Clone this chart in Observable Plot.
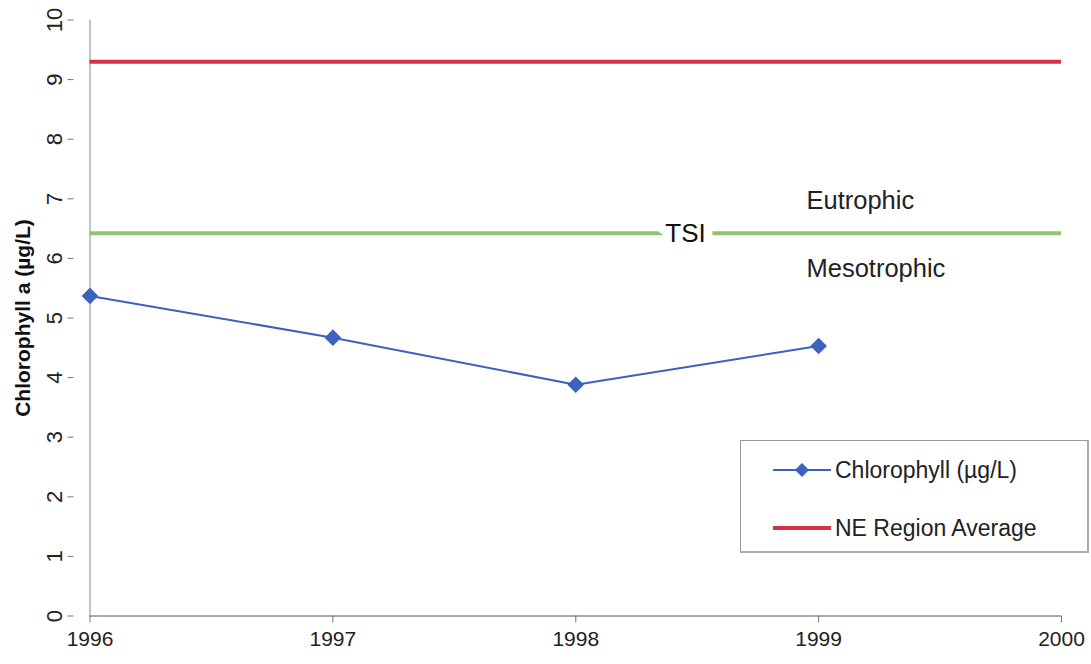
<!DOCTYPE html>
<html><head><meta charset="utf-8">
<script src="https://cdn.jsdelivr.net/npm/d3@7"></script>
<script src="https://cdn.jsdelivr.net/npm/@observablehq/plot@0.6"></script>
<style>
body{margin:0;background:#fff;font-family:"Liberation Sans",Arial,sans-serif;}
#wrap{position:relative;width:1091px;height:664px;}
#legend{position:absolute;left:740px;top:440px;width:349px;height:113px;border:1px solid #999;border-right:2px solid #aaa;border-bottom:2px solid #aaa;box-sizing:border-box;background:#fff;font-size:23px;color:#222;}
.item{position:absolute;left:32px;display:flex;align-items:center;height:26px;}
.sw{margin-right:4px;}
</style></head>
<body><div id="wrap"><div id="chart"></div>
<div id="legend">
<div class="item" style="top:16px"><svg class="sw" width="58" height="16"><line x1="0" y1="8" x2="58" y2="8" stroke="#3b62bf" stroke-width="2"/><path d="M29,1L36,8L29,15L22,8Z" fill="#3b62bf"/></svg><span>Chlorophyll (µg/L)</span></div>
<div class="item" style="top:74px"><svg class="sw" width="58" height="16"><line x1="0" y1="8" x2="58" y2="8" stroke="#d8304a" stroke-width="4"/></svg><span>NE Region Average</span></div>
</div></div>
<script>
const years = [1996, 1997, 1998, 1999];
const chlorophyll = [5.37, 4.67, 3.88, 4.53];
const neRegionAverage = 9.3;
const tsiThreshold = 6.42;
const xTicks = [1996, 1997, 1998, 1999, 2000];
const yTicks = [0,1,2,3,4,5,6,7,8,9,10];
const zoneLabels = ["Eutrophic", "Mesotrophic"];
const zoneLabelY = [6.97, 5.83];
const zoneLabelX = 1998.95;
const tsiLabel = "TSI";
const tsiLabelX = 1998.452;

const data = years.map((y, i) => ({year: y, value: chlorophyll[i]}));
const zones = zoneLabels.map((t, i) => ({text: t, y: zoneLabelY[i]}));

const chart = Plot.plot({
  width: 1091, height: 664,
  marginLeft: 89.5, marginRight: 30, marginTop: 19.5, marginBottom: 48.5,
  style: {fontFamily: "Liberation Sans, Arial, sans-serif", background: "#fff", fontSize: "21px", color: "#222"},
  x: {domain: [1996, 2000]},
  y: {domain: [0, 10]},
  marks: [
    Plot.axisY({ticks: yTicks, tickSize: 6, stroke: "#777", tickRotate: -90, fill: "#222", dx: -16, tickPadding: 6,
      label: "Chlorophyll a (µg/L)", labelAnchor: "center", labelArrow: "none", labelOffset: 75}),
    Plot.axisX({ticks: xTicks, tickFormat: d => String(d), tickSize: 7, stroke: "#777", fill: "#222", tickPadding: 8, label: null}),
    Plot.ruleX([1996], {stroke: "#888", strokeWidth: 1}),
    Plot.ruleY([0], {stroke: "#555", strokeWidth: 1}),
    Plot.ruleY([neRegionAverage], {stroke: "#d8304a", strokeWidth: 4}),
    Plot.ruleY([tsiThreshold], {stroke: "#8ec46e", strokeWidth: 4}),
    Plot.text([tsiLabel], {x: tsiLabelX, y: tsiThreshold, text: d => d, fontSize: 26, fill: "#111", stroke: "white", strokeWidth: 18, paintOrder: "stroke"}),
    Plot.text(zones, {x: zoneLabelX, y: "y", text: "text", textAnchor: "start", fontSize: 25.5, fill: "#222"}),
    Plot.line(data, {x: "year", y: "value", stroke: "#3b62bf", strokeWidth: 2}),
    Plot.dot(data, {x: "year", y: "value", symbol: "diamond2", r: 7.5, fill: "#3b62bf"})
  ]
});
document.getElementById("chart").appendChild(chart);
chart.querySelectorAll("g[aria-label='y-axis label'] text").forEach(t => {t.setAttribute("font-weight","bold"); t.setAttribute("font-size","21"); t.setAttribute("fill","#111");});
chart.querySelectorAll("g[aria-label='y-axis tick label']").forEach(g => g.setAttribute("font-size","22"));
chart.querySelectorAll("g[aria-label='x-axis tick label']").forEach(g => g.setAttribute("font-size","21"));
</script></body></html>
